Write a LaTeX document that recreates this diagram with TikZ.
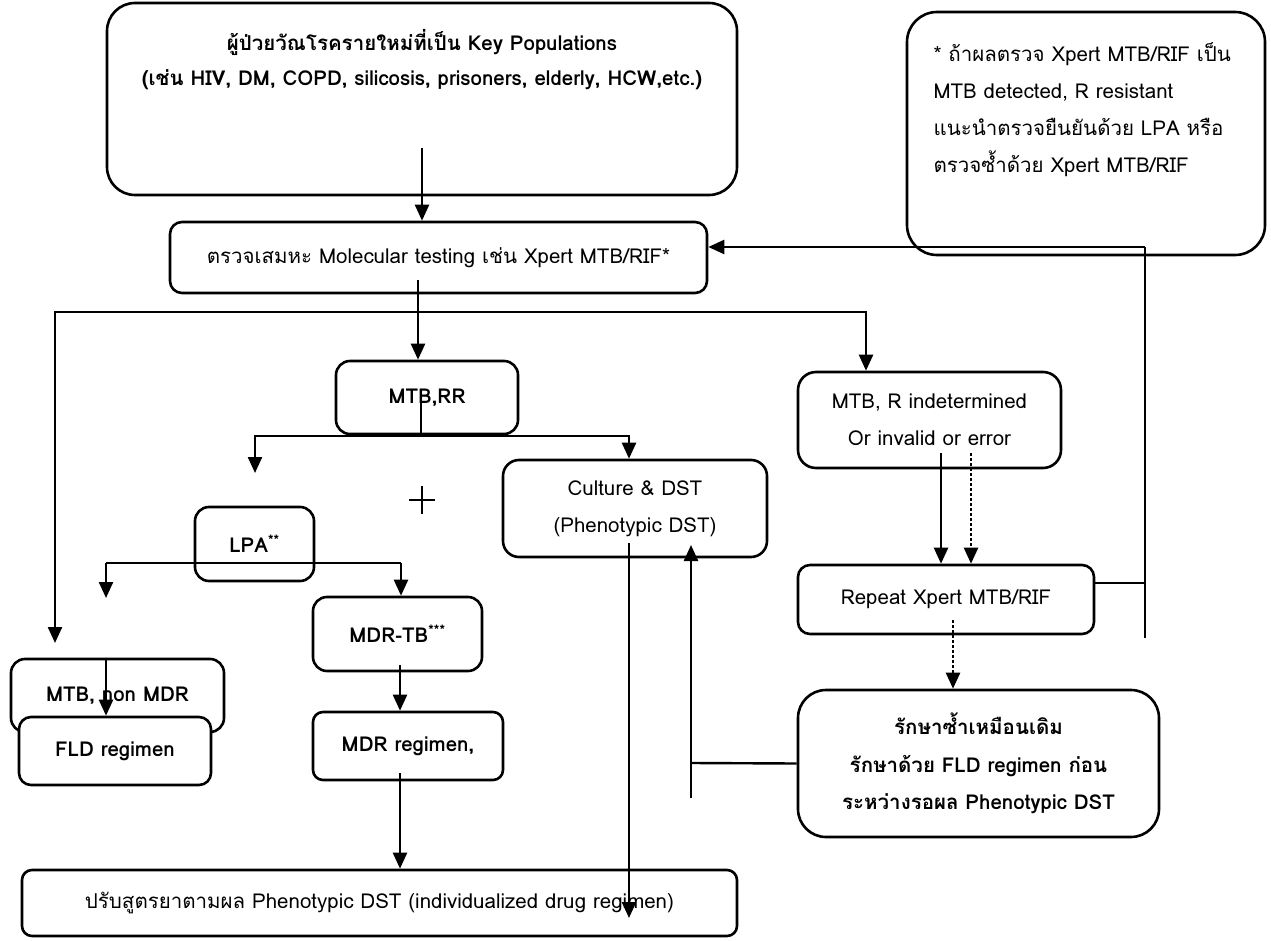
\documentclass[tikz,border=0pt]{standalone}
\usepackage{fontspec}
\setmainfont[Script=Thai]{Loma}
\usetikzlibrary{positioning, arrows.meta, calc}

\begin{document}
\begin{tikzpicture}[x=1pt, y=-1pt,
  txt/.style={font=\fontsize{20.5}{37}\selectfont, align=center},
  bold/.style={font=\fontsize{20.5}{37}\selectfont\bfseries},
  box/.style={draw, line width=2.6pt, rounded corners=#1, fill=white, inner sep=0pt, txt},
  box/.default=12pt,
  line/.style={line width=2.4pt},
  arr/.style={line, -{Triangle[length=16pt,width=14pt]}}]

\useasboundingbox (0,0) rectangle (1271,941);

% boxes
\node[box=28pt, minimum width=630pt, minimum height=192pt] (kp) at (422,99) {};
\node[txt, font=\fontsize{20.5}{35}\selectfont\bfseries] (kptxt) at (422,60)
  {ผู้ป่วยวัณโรครายใหม่ที่เป็น Key Populations\\(เช่น HIV, DM, COPD, silicosis, prisoners, elderly, HCW,etc.)};
\node[box=30pt, minimum width=358pt, minimum height=243pt] (note) at (1086,133.5) {};
\node[txt, align=left, anchor=north west] (notetxt) at (930,39)
  {* ถ้าผลตรวจ Xpert MTB/RIF เป็น\\MTB detected, R resistant\\แนะนำตรวจยืนยันด้วย LPA หรือ\\ตรวจซ้ำด้วย Xpert MTB/RIF};
\node[box, minimum width=537pt, minimum height=71pt] (mol) at (438.5,257.5)
  {ตรวจเสมหะ Molecular testing เช่น Xpert MTB/RIF*};
\node[box=14pt, minimum width=182pt, minimum height=73pt, bold] (mtbrr) at (427,397.5) {MTB,RR};
\node[box=18pt, minimum width=263pt, minimum height=96pt] (indet) at (929.5,420)
  {MTB, R indetermined\\Or invalid or error};
\node[box=16pt, minimum width=264pt, minimum height=97pt] (culture) at (635,508.5)
  {Culture \& DST\\(Phenotypic DST)};
\node[box=14pt, minimum width=119pt, minimum height=74pt, bold] (lpa) at (254.5,544) {LPA\textsuperscript{**}};
\node[box=14pt, minimum width=169pt, minimum height=74pt, bold] (mdrtb) at (397.5,634) {MDR-TB\textsuperscript{***}};
\node[box=10pt, minimum width=190pt, minimum height=68pt, bold] (mdrreg) at (408,746) {MDR regimen,};
\node[box=14pt, minimum width=213pt, minimum height=73pt, bold] (nonmdr) at (117.5,695.5) {MTB, non MDR};
\node[box, minimum width=192pt, minimum height=68pt, bold] (fld) at (115,751) {FLD regimen};
\node[box, minimum width=296pt, minimum height=69pt] (repeat) at (946,599.5) {Repeat Xpert MTB/RIF};
\node[box=28pt, minimum width=361pt, minimum height=147pt, font=\fontsize{20.5}{37.5}\selectfont\bfseries] (retreat) at (978.5,763.5)
  {รักษาซ้ำเหมือนเดิม\\รักษาด้วย FLD regimen ก่อน\\ระหว่างรอผล Phenotypic DST};
\node[box=10pt, minimum width=715pt, minimum height=66pt] (adjust) at (379.5,903)
  {ปรับสูตรยาตามผล Phenotypic DST (individualized drug regimen)};

% junctions and loose ends
\coordinate (kpout) at (422,148);
\coordinate (molout) at (418,280);
\coordinate (split) at (418,312);
\coordinate (tipA) at (55,643);
\coordinate (rrout) at (421,402);
\coordinate (rrsplit) at (421,436);
\coordinate (tipB) at (255,473);
\coordinate (lpaL) at (106,563);
\coordinate (lpaR) at (401,563);
\coordinate (tipC) at (106,598);
\coordinate (tbout) at (400,665);
\coordinate (regout) at (400,773);
\coordinate (cultout) at (629,543);
\coordinate (cultend) at (629,918);
\coordinate (culttip) at (691,545);
\coordinate (junc) at (691,763);
\coordinate (tail) at (691,798);
\coordinate (s1) at (941,453);
\coordinate (s2) at (971,453);
\coordinate (s3) at (953,620);
\coordinate (fb) at (1145,583);
\coordinate (fbtop) at (1145,247);
\coordinate (fbbot) at (1145,638);

% connectors
\draw[arr] (kpout) -- (kpout |- mol.north);
\draw[line] (molout) -- (split);
\draw[arr] (split) -- (split |- mtbrr.north);
\draw[arr] (split) -| (tipA);
\draw[arr] (split) -| ([xshift=-63.5pt]indet.north);
\draw[line] (rrout) -- (rrsplit);
\draw[arr] (rrsplit) -| (tipB);
\draw[arr] (rrsplit) -| ([xshift=-6pt]culture.north);
\draw[line] (lpaL) -- (lpaR);
\draw[arr] (lpaL) -- (tipC);
\draw[arr] (lpaR) -- (lpaR |- mdrtb.north);
\draw[arr] (tbout) -- (tbout |- mdrreg.north);
\draw[arr] (regout) -- (regout |- adjust.north);
\draw[arr] (tipC |- nonmdr.north) -- (tipC |- fld.north);
\draw[arr] (cultout) -- (cultend);
\draw[line] (retreat.west) -- (junc);
\draw[arr] (tail) -- (culttip);
\draw[arr] (s1) -- (s1 |- repeat.north);
\draw[arr, densely dashed] (s2) -- (s2 |- repeat.north);
\draw[arr, densely dashed] (s3) -- (s3 |- retreat.north);
\draw[line] (fb -| repeat.east) -- (fb);
\draw[line] (fbbot) -- (fbtop);
\draw[arr] (fbtop) -- (fbtop -| mol.east);

% stray plus mark
\draw[line width=1.4pt] (409,500) -- (435,500) (422,486) -- (422,514);
\end{tikzpicture}
\end{document}
